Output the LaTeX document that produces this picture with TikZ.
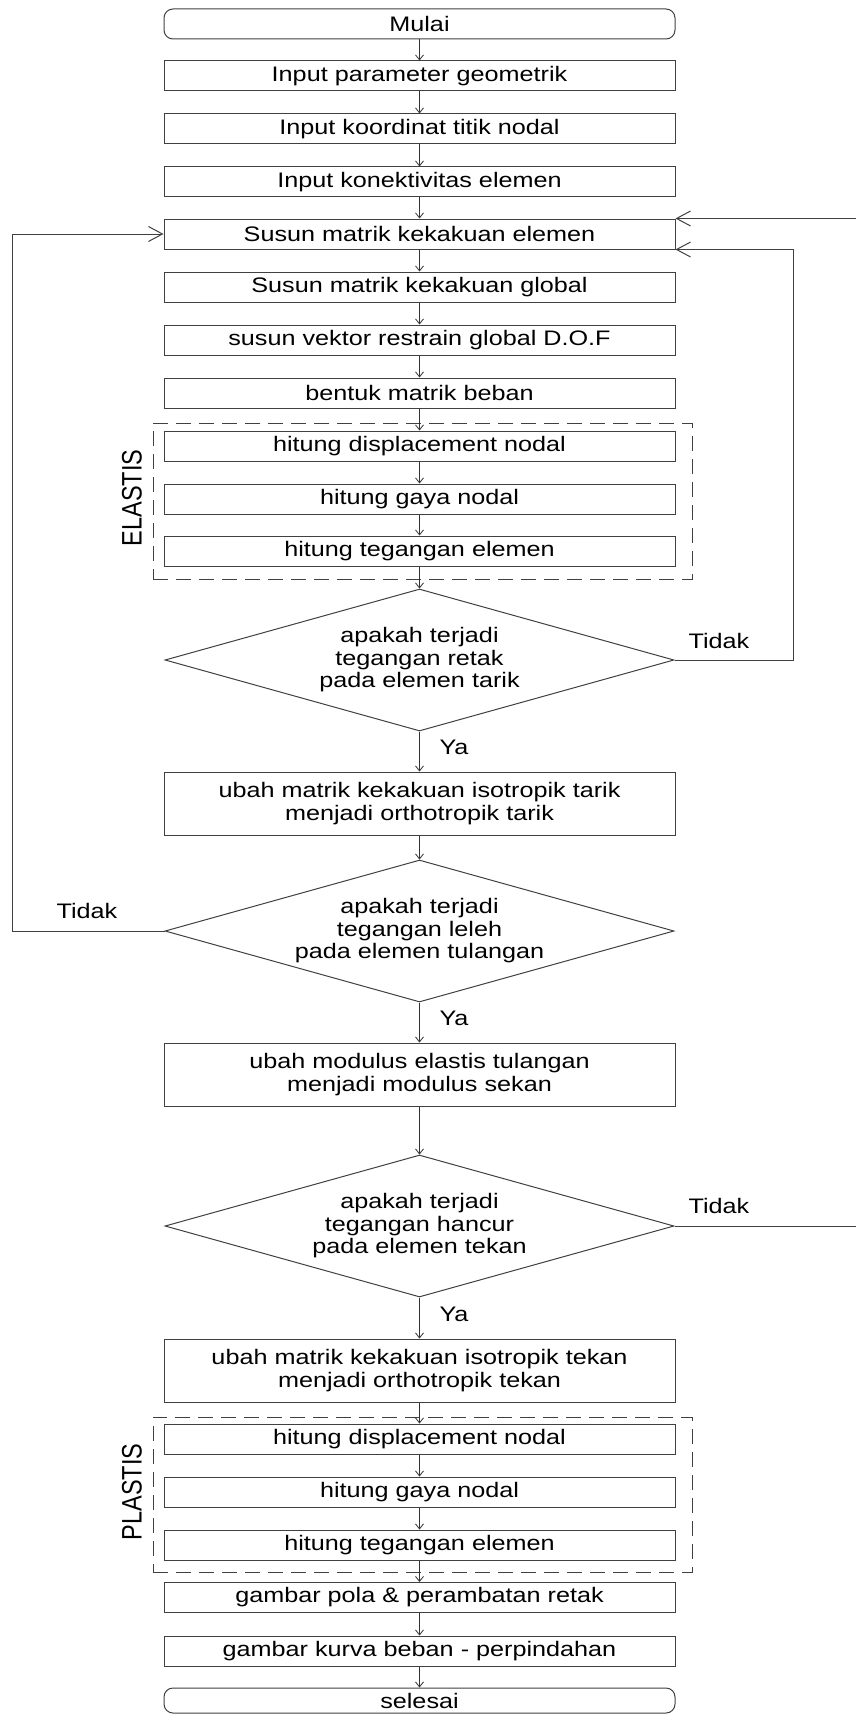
\documentclass[tikz,border=0pt]{standalone}
\usepackage{fontspec}
\setmainfont{Liberation Sans}[FakeStretch=1.2]
\newfontfamily\plainsans{Liberation Sans}
\usetikzlibrary{arrows.meta,shapes.geometric}
\newcommand\flowtxt{\fontsize{21}{22.5}\selectfont}
\newcommand\sidetxt[1]{\scalebox{1}[1.2]{\plainsans\fontsize{23.5}{24}\selectfont #1}}
\begin{document}
\begin{tikzpicture}[x=1pt,y=-1pt,
  box/.style={draw=black!75, line width=1pt, minimum width=511pt, minimum height=30pt, inner sep=0pt, align=center, font=\flowtxt},
  tall/.style={box, minimum height=63pt},
  term/.style={box, rounded corners=9pt},
  dec/.style={draw=black!75, line width=1pt, diamond, aspect=3.58, minimum width=509pt, minimum height=142pt, inner sep=0pt, align=center, font=\flowtxt},
  flow/.style={draw=black!80, line width=0.8pt, -{Straight Barb[length=5pt,width=8pt]}},
  loopline/.style={draw=black!75, line width=1pt, -{Straight Barb[length=14pt,width=15pt]}},
  grp/.style={draw=black!75, line width=1pt, dash pattern=on 15pt off 8pt, inner sep=0pt},
  lbl/.style={font=\flowtxt, inner sep=0pt},
  side/.style={inner sep=0pt, rotate=90}
]
\useasboundingbox (0,0) rectangle (856,1715);

% groups
\node[grp, minimum width=539pt, minimum height=156pt] (elgrp) at (422.5,501) {};
\node[grp, minimum width=539pt, minimum height=155pt] (plgrp) at (422.5,1494.5) {};
\node[side] (eltxt) at (132,498) {\sidetxt{ELASTIS}};
\node[side] (pltxt) at (132,1492) {\sidetxt{PLASTIS}};

% main column
\node[term] (mulai) at (419.5,24) {Mulai};
\node[box] (p1) at (419.5,76) {Input parameter geometrik};
\node[box] (p2) at (419.5,129) {Input koordinat titik nodal};
\node[box] (p3) at (419.5,182) {Input konektivitas elemen};
\node[box] (s1) at (419.5,234) {Susun matrik kekakuan elemen};
\node[box] (s2) at (419.5,287) {Susun matrik kekakuan global};
\node[box] (s3) at (419.5,340) {susun vektor restrain global D.O.F};
\node[box] (s4) at (419.5,393) {bentuk matrik beban};
\node[box] (e1) at (419.5,446) {hitung displacement nodal};
\node[box] (e2) at (419.5,499) {hitung gaya nodal};
\node[box] (e3) at (419.5,551) {hitung tegangan elemen};
\node[dec] (d1) at (419.5,660) {apakah terjadi\\tegangan retak\\pada elemen tarik};
\node[tall] (u1) at (419.5,803.5) {ubah matrik kekakuan isotropik tarik\\menjadi orthotropik tarik};
\node[dec] (d2) at (419.5,931) {apakah terjadi\\tegangan leleh\\pada elemen tulangan};
\node[tall] (u2) at (419.5,1074.5) {ubah modulus elastis tulangan\\menjadi modulus sekan};
\node[dec] (d3) at (419.5,1226) {apakah terjadi\\tegangan hancur\\pada elemen tekan};
\node[tall] (u3) at (419.5,1370.5) {ubah matrik kekakuan isotropik tekan\\menjadi orthotropik tekan};
\node[box] (q1) at (419.5,1439) {hitung displacement nodal};
\node[box] (q2) at (419.5,1492) {hitung gaya nodal};
\node[box] (q3) at (419.5,1545) {hitung tegangan elemen};
\node[box] (g1) at (419.5,1597.5) {gambar pola \& perambatan retak};
\node[box] (g2) at (419.5,1651) {gambar kurva beban - perpindahan};
\node[term, minimum height=25pt] (selesai) at (419.5,1700.5) {selesai};

% labels
\node[lbl] (ya1) at (454,747) {Ya};
\node[lbl] (ya2) at (454,1018) {Ya};
\node[lbl] (ya3) at (454,1314) {Ya};
\node[lbl] (tdk1) at (719,641) {Tidak};
\node[lbl] (tdk2) at (87,911) {Tidak};
\node[lbl] (tdk3) at (719,1206) {Tidak};

% flow
\draw[flow] (mulai) -- (p1);
\draw[flow] (p1) -- (p2);
\draw[flow] (p2) -- (p3);
\draw[flow] (p3) -- (s1);
\draw[flow] (s1) -- (s2);
\draw[flow] (s2) -- (s3);
\draw[flow] (s3) -- (s4);
\draw[flow] (s4) -- (e1);
\draw[flow] (e1) -- (e2);
\draw[flow] (e2) -- (e3);
\draw[flow] (e3) -- (d1);
\draw[flow] (d1) -- (u1);
\draw[flow] (u1) -- (d2);
\draw[flow] (d2) -- (u2);
\draw[flow] (u2) -- (d3);
\draw[flow] (d3) -- (u3);
\draw[flow] (u3) -- (q1);
\draw[flow] (q1) -- (q2);
\draw[flow] (q2) -- (q3);
\draw[flow] (q3) -- (g1);
\draw[flow] (g1) -- (g2);
\draw[flow] (g2) -- (selesai);

% loops
\coordinate (r1) at (793,660);
\coordinate (r2) at (857,1226);
\coordinate (l1) at (12,931);
\draw[loopline] (d1.east) -- (r1) |- (s1.south east);
\draw[loopline] (d3.east) -- (r2) |- (s1.north east);
\draw[loopline] (d2.west) -- (l1) |- (s1.west);
\end{tikzpicture}
\end{document}
